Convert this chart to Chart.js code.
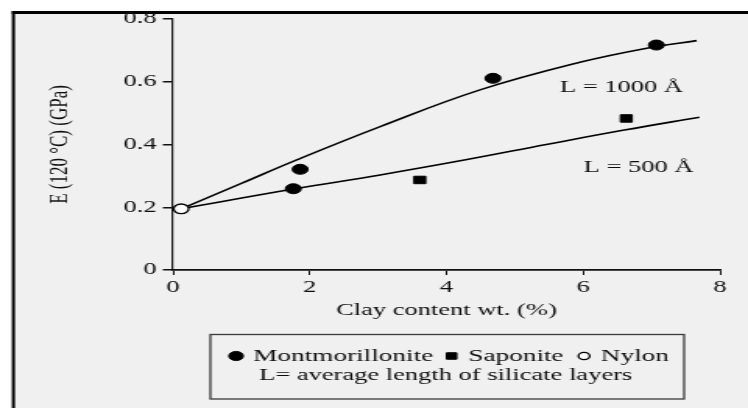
<!DOCTYPE html>
<html>
<head>
<meta charset="utf-8">
<script src="https://cdn.jsdelivr.net/npm/chart.js@4/dist/chart.umd.min.js"></script>
<style>
  html, body { margin: 0; padding: 0; background: #ffffff; overflow: hidden; }
</style>
</head>
<body>
<canvas id="c" width="480" height="408" style="display:block;width:748px;height:408px;"></canvas>
<script>
// ---- data ----
const montX = [1.76, 1.86, 4.68, 7.07];
const montY = [0.259, 0.321, 0.611, 0.717];
const sapX = [3.61, 6.63];
const sapY = [0.287, 0.483];
const nylonX = [0.12];
const nylonY = [0.195];
const l1000X = [0.12, 1.0, 1.81, 3.03, 4.49, 5.95, 6.93, 7.66];
const l1000Y = [0.195, 0.276, 0.351, 0.457, 0.574, 0.662, 0.707, 0.731];
const l500X = [0.12, 1.76, 3.03, 4.3, 5.46, 6.6, 7.7];
const l500Y = [0.195, 0.258, 0.303, 0.352, 0.400, 0.446, 0.487];
const xTicks = [0, 2, 4, 6, 8];
const xTickLabels = ['0', '2', '4', '6', '8'];
const yTicks = [0, 0.2, 0.4, 0.6, 0.8];
const yTickLabels = ['0', '0.2', '0.4', '0.6', '0.8'];
const xTitle = 'Clay content wt. (%)';
const yTitle = 'E (120 °C) (GPa)';
const annTexts = ['L = 1000 Å', 'L = 500 Å'];
const annX = [6.56, 6.81];
const annY = [0.583, 0.328];
const legendNames = ['Montmorillonite', 'Saponite', 'Nylon'];
const legendNote = 'L= average length of silicate layers';

const pts = (xs, ys) => xs.map((x, i) => ({ x: x, y: ys[i] }));
const FONT = 'Liberation Serif, Times New Roman, serif';
const TXT = '#0d0d0d';

const bgPlugin = {
  id: 'bg',
  beforeDraw(chart) {
    const c = chart.ctx;
    c.save();
    c.fillStyle = '#ffffff';
    c.fillRect(0, 0, chart.width, chart.height);
    c.fillStyle = '#f0f0f0';
    c.fillRect(8, 12, chart.width, chart.height);
    c.fillStyle = '#000000';
    c.fillRect(7.6, 11, chart.width, 3);
    c.fillRect(7.6, 11, 2, chart.height);
    c.restore();
  }
};

const annPlugin = {
  id: 'ann',
  afterDatasetsDraw(chart) {
    const c = chart.ctx, xs = chart.scales.x, ys = chart.scales.y;
    c.save();
    c.font = '17px ' + FONT;
    c.fillStyle = TXT;
    c.textAlign = 'center';
    c.textBaseline = 'middle';
    annTexts.forEach((t, i) => {
      c.fillText(t, xs.getPixelForValue(annX[i]), ys.getPixelForValue(annY[i]));
    });
    c.restore();
  }
};

const legendPlugin = {
  id: 'customLegend',
  afterDraw(chart) {
    const c = chart.ctx;
    c.save();
    c.strokeStyle = '#3a3a3a';
    c.lineWidth = 1.3;
    c.strokeRect(135, 334.5, 304, 64.5);
    const y1 = 356, y2 = 375.5;
    const ds = chart.data.datasets;
    const markX = [151.5, 289.8, 374.8];
    const textX = [162.4, 300.4, 385.5];
    for (let i = 0; i < 3; i++) {
      const d = ds[i];
      c.fillStyle = d.backgroundColor;
      c.strokeStyle = d.borderColor;
      c.lineWidth = d.borderWidth;
      Chart.helpers.drawPoint(c, {
        pointStyle: d.pointStyle,
        radius: i === 2 ? 3.6 : 4.6,
        borderWidth: d.borderWidth
      }, markX[i], y1);
      c.font = '17.5px ' + FONT;
      c.fillStyle = TXT;
      c.textBaseline = 'middle';
      c.textAlign = 'left';
      c.fillText(legendNames[i], textX[i], y1);
    }
    c.font = '17px ' + FONT;
    c.textAlign = 'center';
    c.fillStyle = TXT;
    c.fillText(legendNote, 286, y2);
    c.restore();
  }
};

const canvas = document.getElementById('c');
const chart = new Chart(canvas, {
  type: 'scatter',
  data: {
    datasets: [
      { label: legendNames[0], data: pts(montX, montY), pointStyle: 'circle', pointRadius: 5,
        backgroundColor: '#000000', borderColor: '#000000', borderWidth: 1, showLine: false },
      { label: legendNames[1], data: pts(sapX, sapY), pointStyle: 'rect', pointRadius: 5.3,
        backgroundColor: '#000000', borderColor: '#000000', borderWidth: 1, showLine: false },
      { label: legendNames[2], data: pts(nylonX, nylonY), pointStyle: 'circle', pointRadius: 4.8,
        backgroundColor: '#ffffff', borderColor: '#000000', borderWidth: 1.3, showLine: false },
      { label: 'L = 1000 Å', data: pts(l1000X, l1000Y), showLine: true, pointRadius: 0,
        borderColor: '#000000', borderWidth: 1.6, tension: 0.4, fill: false },
      { label: 'L = 500 Å', data: pts(l500X, l500Y), showLine: true, pointRadius: 0,
        borderColor: '#000000', borderWidth: 1.6, tension: 0.4, fill: false }
    ]
  },
  options: {
    responsive: false,
    devicePixelRatio: 1,
    animation: false,
    events: [],
    layout: { padding: { left: 0, right: 18, top: 19, bottom: 0 } },
    plugins: { legend: { display: false }, tooltip: { enabled: false } },
    scales: {
      x: {
        type: 'linear', min: 0, max: 8,
        afterBuildTicks: s => { s.ticks = xTicks.map(v => ({ value: v })); },
        afterFit: s => { s.height = 138; },
        grid: { drawOnChartArea: false, drawTicks: true, tickLength: 5, color: '#111111', lineWidth: 1 },
        border: { display: true, color: '#111111', width: 1.8 },
        ticks: { font: { family: FONT, size: 17 }, color: TXT, padding: 2, maxRotation: 0,
          callback: (v, i) => xTickLabels[i] },
        title: { display: true, text: xTitle, font: { family: FONT, size: 17 }, color: TXT,
          padding: { top: 87, bottom: 87 } }
      },
      y: {
        type: 'linear', min: 0, max: 0.8,
        afterBuildTicks: s => { s.ticks = yTicks.map(v => ({ value: v })); },
        afterFit: s => { s.width = 111; },
        grid: { drawOnChartArea: false, drawTicks: true, tickLength: 6.5, color: '#111111', lineWidth: 1.5 },
        border: { display: true, color: '#111111', width: 1.2 },
        ticks: { font: { family: FONT, size: 17 }, color: TXT, padding: 4,
          callback: (v, i) => yTickLabels[i] },
        title: { display: true, text: yTitle, font: { family: FONT, size: 17 }, color: TXT,
          padding: { top: 28.3, bottom: 28.3 } }
      }
    }
  },
  plugins: [bgPlugin, annPlugin, legendPlugin]
});
// stretch the drawing horizontally as in the reference picture
canvas.style.width = '748px';
canvas.style.height = '408px';
</script>
</body>
</html>
